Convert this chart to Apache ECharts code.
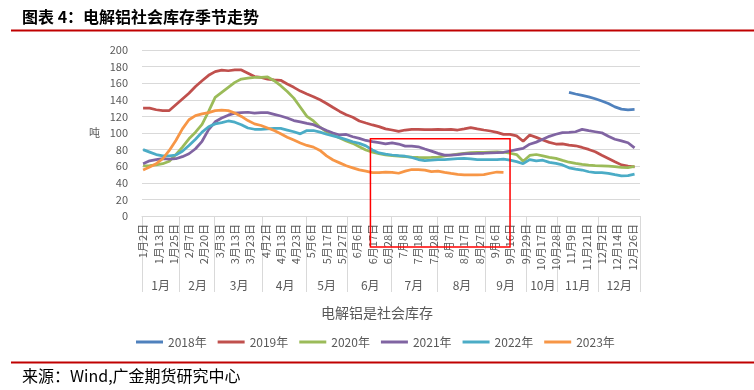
<!DOCTYPE html>
<html><head><meta charset="utf-8">
<script src="https://cdn.jsdelivr.net/npm/echarts@6.0.0/dist/echarts.min.js"></script>
<style>html,body{margin:0;padding:0;background:#fff;}#c{width:754px;height:390px;}</style>
</head><body><div id="c"></div>
<script>
// ---- data ----
const tickLabels = ['1月2日','1月13日','1月25日','2月7日','2月20日','3月3日','3月13日','3月23日','4月2日','4月13日','4月23日','5月6日','5月17日','5月27日','6月6日','6月17日','6月28日','7月8日','7月18日','7月28日','8月7日','8月17日','8月27日','9月6日','9月16日','9月29日','10月17日','10月28日','11月9日','11月21日','12月2日','12月14日','12月26日'];
const months = ['1月','2月','3月','4月','5月','6月','7月','8月','9月','10月','11月','12月'];
const monthCounts = [17,16,22,20,19,20,21,22,19,14,19,19];   // data points per month
const LABEL_EVERY = 7;     // one date label every 7 data points
const STEP = 3;            // values below are read at every 3rd data point
const years = ['2018年','2019年','2020年','2021年','2022年','2023年'];

const s2018Start = 195;
const s2018 = [149,147,145.3,143.5,141.3,138.5,135.5,131.5,128.8,128,128.5];
const s2019 = [130,130,128,127,127,134,141,148,156,163,
  169.5,174,175.8,175,176,176,172,168,167,165,
  164,163.5,159,155,150.5,147,143.7,140,135.5,130.7,
  126,122,119,114.5,112,109.7,107.7,105,103.6,102,
  103.6,104.4,104.4,104,104,104.4,104,104.4,103.6,105,
  106.5,105,103.6,102.4,100.8,98.4,98.3,96.5,90,97.5,
  94.7,91.5,88.7,86.7,87,85.5,84.6,82.6,80.2,77.4,
  73.3,69.3,65.3,61.6,60,59.2];
const s2020 = [60.4,60.8,61.6,63,66,74,83,93,101,110.5,
  126,143,149,155,161,165,166,167,167,167.5,
  163,157,150,142,131,120,114.5,107,101.5,98,
  94,90.5,87.5,83.5,79.5,76.8,75,73.5,72.7,72.2,
  71.5,70.8,70.5,70.3,70.5,71,72.5,73.5,74.5,75.5,
  76.4,76.6,76.6,77,77.2,76.8,75.6,74,66,73,
  74.1,72.4,70.7,69.5,67,64.8,63.3,62.2,61.3,60.6,
  60.4,60.1,59.4,58.6,58.4,59.8];
const s2021 = [63,66.5,68,69,68.5,69,71.5,75,81,90,
  104,113.5,118,121.5,124,124.5,125,124,124.5,124.5,
  122.5,120.5,118,115,113.5,111.5,110,106.5,103,100,
  97.6,98.2,95.5,93.5,91,89.5,88.3,87,88.2,86.7,
  84.2,84.2,83.4,80.7,78.2,75.4,73.3,73.3,74,74.8,
  75.3,75.4,75.6,76.2,76.3,76.8,78.3,80,81.4,86.5,
  89,92.5,96,98.5,100.5,100.8,101.5,104.4,102.8,101.5,
  100.2,96,92.5,90.5,88.3,82];
const s2022 = [80,77,74,72.5,72.5,73.5,78,85,92.5,101,
  107.5,111,112.5,114.5,113,110,106,104.5,104.5,105,
  105.5,105.5,103.5,101.5,99,103,103,101,98.5,96.5,
  94.5,92,89.5,87.5,84.5,79.5,76,74.5,73.5,72.7,
  72,70.5,68,66.7,67.3,68,68,68.5,69,69.5,
  68.8,68,68,68,67.8,68.5,67.3,65.5,63,68,
  66.5,67.2,64.6,63.3,61.5,58,56.6,55.4,53.3,52.2,
  52.3,51.4,49.8,48.3,48.6,50.5];
const s2023 = [55.5,59,63,69,79,91,105,116,121,123,
  124.5,127,127.5,127,124,120,115,111,109,106,
  103,99,95,91.5,88,85,83,79,72.5,67.5,
  64,60.5,58,55.5,54,52.3,52.3,53,52.5,51.5,
  54,56,56,55.2,53.5,54,52.5,51.3,50.2,49.5,
  49.6,49.6,49.8,51.5,53,52.6];

const colors = ['#4F81BD','#C0504D','#9BBB59','#8064A2','#4BACC6','#F79646'];
const FONT = "'Noto Sans CJK SC','Noto Sans',sans-serif";

// ---- build axes ----
const total = monthCounts.reduce((a,b)=>a+b,0);
const categories = [];
for (let i = 0; i < total; i++) {
  categories.push(i % LABEL_EVERY === 0 ? tickLabels[i / LABEL_EVERY] : '');
}
const monthOf = [], monthStart = new Set(), monthMid = new Set();
let pos = 0;
months.forEach((m, i) => {
  monthStart.add(pos);
  monthMid.add(pos + Math.floor(monthCounts[i] / 2));
  for (let j = 0; j < monthCounts[i]; j++) monthOf.push(m);
  pos += monthCounts[i];
});
function pairs(vals, start) { return vals.map((v, k) => [start + k * STEP, v]); }
const seriesVals = [pairs(s2018, s2018Start), pairs(s2019, 0), pairs(s2020, 0), pairs(s2021, 0), pairs(s2022, 0), pairs(s2023, 0)];

const chart = echarts.init(document.getElementById('c'), null, {renderer: 'canvas'});
chart.setOption({
  animation: false,
  textStyle: {fontFamily: FONT},
  title: [
    {text: '图表 4：电解铝社会库存季节走势', left: 22, top: 9, padding: 0,
     textStyle: {fontSize: 16, fontWeight: 'bold', color: '#000', fontFamily: FONT}},
    {text: '电解铝是社会库存', left: 'center', top: 306, padding: 0,
     textStyle: {fontSize: 14, fontWeight: 'normal', color: '#595959', fontFamily: FONT}},
    {text: '来源：Wind,广金期货研究中心', left: 22, top: 368, padding: 0,
     textStyle: {fontSize: 16, fontWeight: 'normal', color: '#000', fontFamily: FONT}}
  ],
  legend: {
    data: years, left: 131, top: 331, itemWidth: 27, itemHeight: 3, itemGap: 11, icon: 'rect',
    textStyle: {color: '#595959', fontSize: 12, fontFamily: FONT}
  },
  grid: {left: 142, right: 114, top: 50, bottom: 174},
  xAxis: [
    {type: 'category', data: categories, boundaryGap: true, position: 'bottom',
     axisLine: {lineStyle: {color: '#D9D9D9'}}, axisTick: {show: false},
     axisLabel: {interval: LABEL_EVERY - 1, rotate: 90, fontSize: 11, color: '#595959', margin: 8, fontFamily: FONT},
     splitLine: {show: false}},
    {type: 'category', data: monthOf, boundaryGap: true, position: 'bottom',
     axisLine: {show: false},
     axisTick: {show: true, interval: (i) => monthStart.has(i), length: 76, lineStyle: {color: '#D9D9D9'}},
     axisLabel: {interval: (i) => monthMid.has(i), fontSize: 12, color: '#595959', margin: 63, fontFamily: FONT},
     splitLine: {show: false}}
  ],
  yAxis: {
    type: 'value', min: 0, max: 200, interval: 20,
    axisLine: {show: false}, axisTick: {show: false},
    axisLabel: {color: '#595959', fontSize: 11, margin: 14, fontFamily: FONT},
    splitLine: {lineStyle: {color: '#D9D9D9'}},
    name: '吨', nameLocation: 'middle', nameRotate: 0, nameGap: 42,
    nameTextStyle: {color: '#595959', fontSize: 11, fontFamily: FONT}
  },
  series: years.map((y, i) => ({
    name: y, type: 'line', xAxisIndex: 0, data: seriesVals[i], symbol: 'none',
    lineStyle: {width: 2.75, color: colors[i]}, itemStyle: {color: colors[i]}
  }))
});

// decorative rules and highlight box (box computed from axis scales)
const x0 = chart.convertToPixel({xAxisIndex: 0}, categories.indexOf('6月17日')) - 2;
const x1 = chart.convertToPixel({xAxisIndex: 0}, categories.indexOf('9月16日'));
const y0 = chart.convertToPixel({yAxisIndex: 0}, 93);
const y1 = chart.convertToPixel({yAxisIndex: 0}, 0) + 31;
chart.setOption({
  graphic: [
    {type: 'line', shape: {x1: 11, y1: 30.5, x2: 754, y2: 30.5}, style: {stroke: '#C00000', lineWidth: 2}},
    {type: 'line', shape: {x1: 11, y1: 362.5, x2: 754, y2: 362.5}, style: {stroke: '#C00000', lineWidth: 2}},
    {type: 'rect', z: 100, shape: {x: x0, y: y0, width: x1 - x0, height: y1 - y0},
     style: {fill: 'none', stroke: '#FF0000', lineWidth: 1.5}}
  ]
});
</script></body></html>
